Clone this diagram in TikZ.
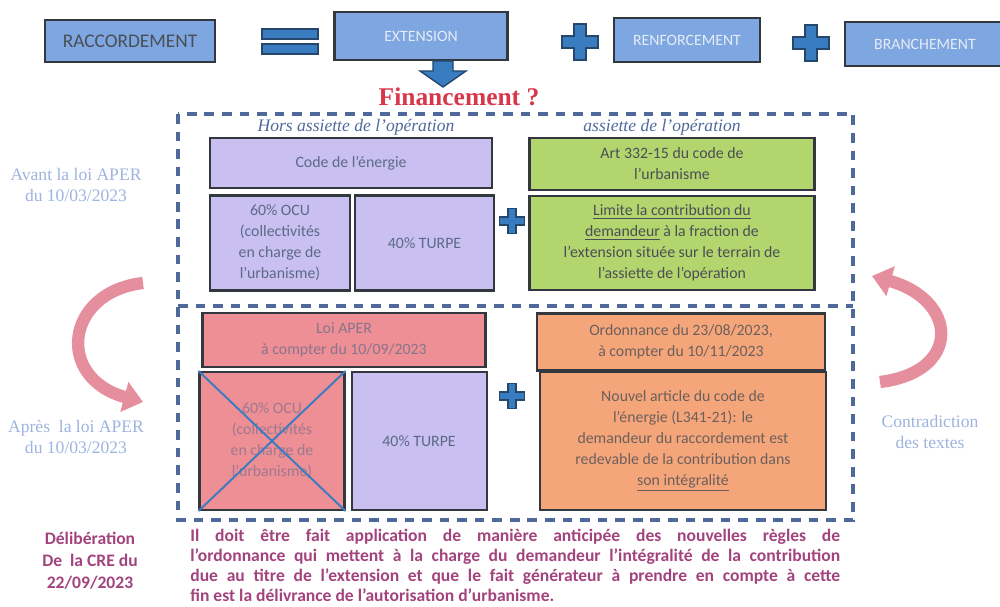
\documentclass[tikz,border=0pt]{standalone}
\usepackage{fontspec}
\setmainfont{Liberation Serif}
\setsansfont{Carlito}
\usepackage{tikz}
\usetikzlibrary{arrows.meta}
\usetikzlibrary{positioning}
\definecolor{topblue}{HTML}{7EA6E0}
\definecolor{signblue}{HTML}{3A7CC0}
\definecolor{signedge}{HTML}{24476B}
\definecolor{edgegrey}{HTML}{33383F}
\definecolor{lavender}{HTML}{C9BFF0}
\definecolor{leafgreen}{HTML}{B3D56E}
\definecolor{rosered}{HTML}{EE8E95}
\definecolor{peach}{HTML}{F5A57A}
\definecolor{framecol}{HTML}{4F6A9A}
\definecolor{boxtext}{HTML}{5B6A88}
\definecolor{darktext}{HTML}{4A4F55}
\definecolor{paletext}{HTML}{E6ECF7}
\definecolor{skytext}{HTML}{9DB3E0}
\definecolor{plum}{HTML}{A2437E}
\definecolor{alarm}{HTML}{D9364A}
\definecolor{rosearrow}{HTML}{E48E9E}
\tikzset{>=Latex, x=0.02cm, y=-0.02cm, inner sep=2pt}
\tikzstyle{topbox} = [draw=edgegrey, fill=topblue, line width=1.2pt, rectangle, minimum height=0.88cm, text=paletext, font=\sffamily\fontsize{9}{9}\selectfont]
\tikzstyle{block} = [draw=edgegrey, line width=1.2pt, rectangle, text=boxtext, align=center, font=\sffamily\fontsize{9}{12}\selectfont]
\tikzstyle{sign} = [fill=signblue, draw=signedge, line width=0.8pt]
\tikzstyle{frame} = [draw=framecol, line width=2.3pt, dash pattern=on 5.5pt off 4.5pt]
\tikzstyle{side} = [text=skytext, align=center, font=\rmfamily\fontsize{10}{11.5}\selectfont]
\tikzstyle{caption} = [text=framecol, font=\rmfamily\itshape\fontsize{10}{10}\selectfont]
\tikzstyle{swing} = [draw=rosearrow, line width=7pt, -{Triangle[width=17pt,length=11pt]}]
\tikzset{plussign/.pic={
  \filldraw[sign] (-0.33,-1) -- (0.33,-1) -- (0.33,-0.33) -- (1,-0.33) -- (1,0.33) -- (0.33,0.33)
    -- (0.33,1) -- (-0.33,1) -- (-0.33,0.33) -- (-1,0.33) -- (-1,-0.33) -- (-0.33,-0.33) -- cycle;
}}

\begin{document}
\begin{tikzpicture}
		\useasboundingbox (0,0) rectangle (1000,607);

		% top line
		\node [topbox, minimum width=3.4cm, minimum height=0.84cm, text=darktext, font=\sffamily\fontsize{11}{11}\selectfont] (racc) at (130,41) {RACCORDEMENT};
		\node [topbox, minimum width=3.46cm, minimum height=0.96cm] (ext) at (421,36) {EXTENSION};
		\node [topbox, minimum width=2.92cm] (renf) at (687,40) {RENFORCEMENT};
		\node [topbox, minimum width=3.2cm] (branch) at (925,44) {BRANCHEMENT};

		\filldraw [sign] (262,29) rectangle (318,39);
		\filldraw [sign] (262,44) rectangle (318,54);
		\pic [scale=18] at (580,42) {plussign};
		\pic [scale=18] at (811,43) {plussign};

		\filldraw [sign] (433,61) -- (453,61) -- (453,71) -- (466,71) -- (443,87) -- (420,71) -- (433,71) -- cycle;
		\node [text=alarm, font=\rmfamily\bfseries\fontsize{14.5}{14.5}\selectfont] (fin) at (459,97) {Financement ?};

		% dashed frame
		\draw [frame] (178,114) rectangle (853,520);
		\draw [frame] (178,306) -- (853,306);

		% before the law
		\node [caption] (hors) at (356,127) {Hors assiette de l'opération};
		\node [caption] (ass) at (662,127) {assiette de l'opération};

		\node [block, fill=lavender, minimum width=5.64cm, minimum height=1.0cm] (code) at (351,163) {Code de l'énergie};
		\node [block, fill=leafgreen, text=darktext, minimum width=5.7cm, minimum height=1.04cm] (art) at (672,164) {Art 332-15 du code de\\l'urbanisme};
		\node [block, fill=lavender, minimum width=2.8cm, minimum height=1.9cm] (ocu) at (280,243) {60\% OCU\\(collectivités\\en charge de\\l'urbanisme)};
		\node [block, fill=lavender, minimum width=2.78cm, minimum height=1.9cm, right=0.06cm of ocu] (turpe) {40\% TURPE};
		\node [block, fill=leafgreen, text=darktext, minimum width=5.7cm, minimum height=1.88cm] (lim) at (672,243) {\underline{Limite la contribution du}\\\underline{demandeur} à la fraction de\\l'extension située sur le terrain de\\l'assiette de l'opération};
		\pic [scale=12.5] at (512,221) {plussign};

		% after the law
		\node [block, fill=rosered, text=boxtext!70!rosered, minimum width=5.66cm, minimum height=1.08cm] (aper) at (344,340) {Loi APER\\à compter du 10/09/2023};
		\node [block, fill=peach, text=darktext!80!peach, minimum width=5.76cm, minimum height=1.14cm] (ord) at (681,342) {Ordonnance du 23/08/2023,\\à compter du 10/11/2023};
		\node [block, fill=rosered, text=boxtext!55!rosered, minimum width=2.9cm, minimum height=2.76cm] (ocu_b) at (272,441) {60\% OCU\\(collectivités\\en charge de\\l'urbanisme)};
		\node [block, fill=lavender, minimum width=2.7cm, minimum height=2.76cm, right=0.1cm of ocu_b] (turpe_b) {40\% TURPE};
		\node [block, fill=peach, text=darktext!80!peach, minimum width=5.72cm, minimum height=2.76cm] (art_n) at (683,441) {Nouvel article du code de\\l'énergie (L341-21): le\\demandeur du raccordement est\\redevable de la contribution dans\\\underline{son intégralité}};
		\pic [scale=12.5] at (512,396) {plussign};
		\draw [draw=signblue, line width=1.1pt] (ocu_b.north west) -- (ocu_b.south east);
		\draw [draw=signblue, line width=1.1pt] (ocu_b.north east) -- (ocu_b.south west);

		% side notes
		\node [side] (avant) at (76,185) {Avant la loi APER\\du 10/03/2023};
		\node [side] (apres) at (76,437) {Après\ \ la loi APER\\du 10/03/2023};
		\node [side] (contra) at (930,432) {Contradiction\\des textes};

		\coordinate (l_from) at (143,283);
		\coordinate (l_to) at (143,402);
		\coordinate (r_from) at (880,382);
		\coordinate (r_to) at (872,276);
		\draw [swing] (l_from) .. controls (65,292) and (55,378) .. (l_to);
		\draw [swing] (r_from) .. controls (962,372) and (958,300) .. (r_to);

		% CRE
		\node [text=plum, align=center, font=\sffamily\bfseries\fontsize{10}{12.5}\selectfont] (cre) at (90,561) {Délibération\\De\ \ la CRE du\\22/09/2023};
		\node [anchor=north west, text=plum, text width=13cm, align=justify, inner sep=0pt, font=\sffamily\bfseries\fontsize{10}{11.3}\selectfont] (rule) at (190,529)
			{Il doit être fait application de manière anticipée des nouvelles règles de\linebreak
			l'ordonnance qui mettent à la charge du demandeur l'intégralité de la contribution\linebreak
			due au titre de l'extension et que le fait générateur à prendre en compte à cette\linebreak
			fin est la délivrance de l'autorisation d'urbanisme.};
	\end{tikzpicture}
\end{document}
